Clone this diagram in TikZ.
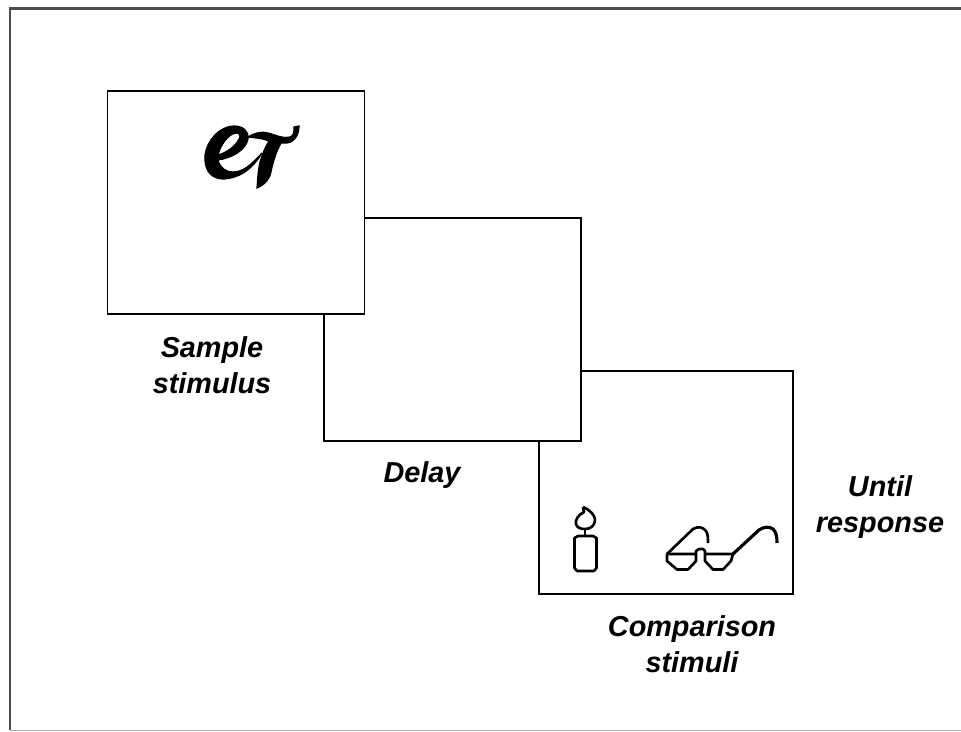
\documentclass[tikz,border=0pt]{standalone}
\usepackage{fontspec}
\setmainfont{Liberation Sans}
\usepackage{tikz}
\tikzset{
  panel/.style={draw,fill=white,line width=0.7pt,minimum width=5.14cm,minimum height=4.46cm,inner sep=0pt},
  caption/.style={font=\fontsize{16.4}{20.4}\selectfont\bfseries\itshape,align=center,inner sep=0pt},
  sketch/.style={line width=1.5pt,line join=round}
}
\begin{document}
\begin{tikzpicture}[x=0.02cm,y=-0.02cm]
    \useasboundingbox (0,0) rectangle (961,731);
    \draw[line width=1.2pt,draw=black!70] (961,8.5) -- (10,8.5) -- (10,730);
    \draw[line width=0.6pt,draw=black!30] (10,730.5) -- (961,730.5);
    \begin{scope}[every node/.style={panel}]
      \node[minimum width=5.08cm] (comparison) at (666,482.5) {};
      \node (delay) at (452.5,329.5) {};
      \node (sample) at (236,202.5) {};
    \end{scope}
    \begin{scope}[every node/.style={caption}]
      \node (samplelabel) at (212,365) {Sample\\stimulus};
      \node (delaylabel) at (422,475) {Delay};
      \node (untillabel) at (880,507) {Until\\response};
      \node (comparisonlabel) at (692,644) {Comparison\\stimuli};
    \end{scope}
    % sample glyph
    \filldraw[line width=0.7pt,even odd rule] (262,153) .. controls (252,170) and (238,179) .. (222,179)
      .. controls (208,178) and (204,166) .. (205,155)
      .. controls (207,140) and (220,126) .. (234,126)
      .. controls (243,126) and (249,131) .. (248,139)
      .. controls (246,150) and (232,158) .. (218,160)
      .. controls (220,168) and (226,172) .. (233,172)
      .. controls (243,172) and (251,165) .. (262,153) -- cycle
      (218,155) .. controls (220,146) and (228,134) .. (236,133)
      .. controls (240,133) and (241,136) .. (239,139)
      .. controls (236,146) and (226,153) .. (218,155) -- cycle;
    \filldraw[line width=0.7pt] (248,137) .. controls (254,133) and (262,131) .. (268,133)
      .. controls (276,135) and (283,139) .. (290,137)
      .. controls (294,136) and (294,131) .. (294,127)
      -- (299,126)
      .. controls (299,134) and (295,142) .. (287,143)
      -- (281,143)
      .. controls (276,152) and (273,162) .. (271,172)
      .. controls (270,178) and (266,184) .. (257,188)
      .. controls (258,176) and (258,166) .. (262,156)
      .. controls (264,150) and (266,146) .. (269,141)
      .. controls (262,138) and (255,138) .. (248,137) -- cycle;
    % candle
    \draw[sketch] (574.5,538) -- (574.5,568) -- (577,571) -- (594,571) -- (596.5,568) -- (596.5,538)
      -- (593,536) -- (578,536) -- cycle;
    \draw[sketch] (585,536) -- (585,529);
    \draw[sketch] (583,507) -- (584,512) .. controls (578,515) and (575,520) .. (576,524)
      .. controls (577,528) and (581,529) .. (585,529)
      .. controls (590,529) and (595,526) .. (595,520)
      .. controls (595,515) and (590,510) .. (583,507);
    % glasses
    \draw[sketch] (667,554) -- (693,529) .. controls (698,526) and (703,527) .. (706,531)
      .. controls (708,534) and (708,538) .. (708,543);
    \draw[sketch] (667,554) -- (696,554) -- (696,561) -- (688,569.5) -- (677,569.5) -- (667,561) -- cycle;
    \draw[sketch] (696,554) -- (696,551) -- (699,549) -- (703,549) -- (705,551) -- (705,554);
    \draw[sketch] (705,554) -- (733,554) -- (731,561) -- (723,569.5) -- (713,569.5) -- (705,561) -- cycle;
    \draw[line width=1.8pt,line join=round] (733,554) -- (759,530) .. controls (763,527) and (769,526) .. (773,529)
      .. controls (776,532) and (777,536) .. (777,543);
  \end{tikzpicture}
\end{document}
